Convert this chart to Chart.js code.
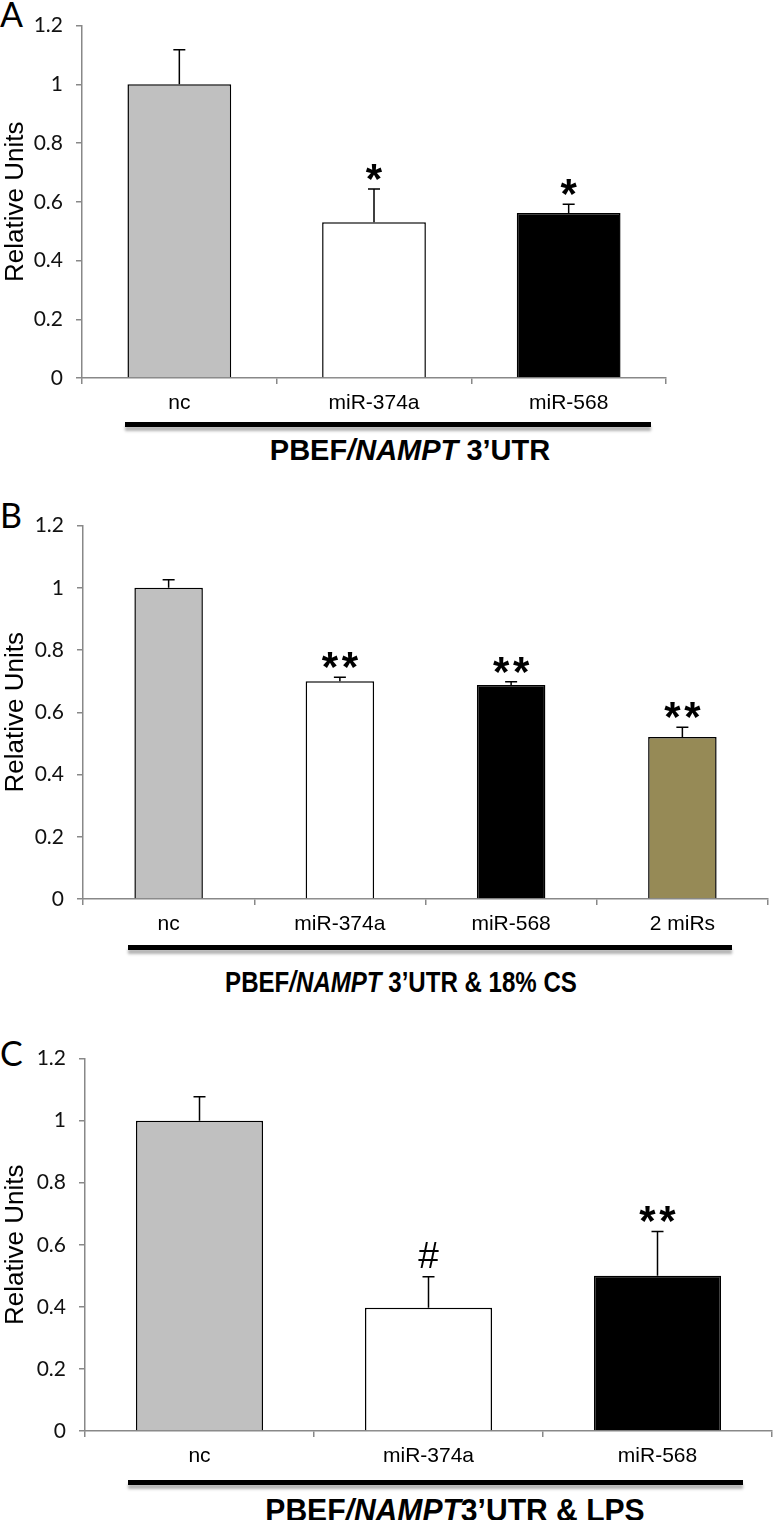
<!DOCTYPE html>
<html>
<head>
<meta charset="utf-8">
<script src="https://cdn.jsdelivr.net/npm/chart.js@4.4.1/dist/chart.umd.min.js"></script>
<style>
body { margin: 0; background: #fff; }
#page { position: relative; width: 773px; height: 1520px; overflow: hidden; font-family: "Liberation Sans", Arial, sans-serif; }
canvas { position: absolute; left: 0; }
.letter { position: absolute; left: 0; font-family: Lato, "Open Sans", sans-serif; font-size: 34px; line-height: 1; color: #000; }
.rule { position: absolute; height: 5px; background: #000; box-shadow: 0 4px 3px rgba(0,0,0,0.3); }
.ttl { position: absolute; font-weight: bold; white-space: nowrap; color: #000; line-height: 1; }
</style>
</head>
<body>
<div id="page">
    <div class="letter" style="top:-3px">A</div>
    <canvas id="chartA" width="773" height="418" style="top:0px"></canvas>
    <div class="rule" style="left:125px;width:526px;top:422px"></div>
    <div class="ttl" style="left:410px;top:450px;font-size:29px;transform:translate(-50%,-50%)">PBEF<i>/NAMPT</i> 3’UTR</div>

    <div class="letter" style="top:498px">B</div>
    <canvas id="chartB" width="773" height="439" style="top:500px"></canvas>
    <div class="rule" style="left:128px;width:604px;top:945px"></div>
    <div class="ttl" style="left:401px;top:982px;font-size:29px;transform:translate(-50%,-50%) scaleX(0.83)">PBEF<i>/NAMPT</i> 3’UTR &amp; 18% CS</div>

    <div class="letter" style="top:1036px">C</div>
    <canvas id="chartC" width="773" height="438" style="top:1033px"></canvas>
    <div class="rule" style="left:128px;width:615px;top:1480px"></div>
    <div class="ttl" style="left:455px;top:1510px;font-size:32px;transform:translate(-50%,-50%) scaleX(0.94)">PBEF<i>/NAMPT</i>3’UTR &amp; LPS</div>
</div>

<script>
// values
const yTickLabels = ["0", "0.2", "0.4", "0.6", "0.8", "1", "1.2"];

const labelsA = ["nc", "miR-374a", "miR-568"];
const meanA = [1.0, 0.53, 0.562];
const errA = [0.118, 0.114, 0.03];
const marksA = ["", "*", "*"];

const labelsB = ["nc", "miR-374a", "miR-568", "2 miRs"];
const meanB = [1.0, 0.70, 0.688, 0.521];
const errB = [0.026, 0.013, 0.01, 0.031];
const marksB = ["", "**", "**", "**"];

const labelsC = ["nc", "miR-374a", "miR-568"];
const meanC = [1.0, 0.397, 0.5];
const errC = [0.077, 0.1, 0.143];
const marksC = ["", "#", "**"];

const barColors = ["#c0c0c0", "#ffffff", "#000000", "#968a56"];

// error bars + significance marks, drawn from the chart's own scales
const errorBars = {
    id: "errorBars",
    afterDatasetsDraw(chart, args, opts) {
        const ctx = chart.ctx;
        const meta = chart.getDatasetMeta(0);
        const y = chart.scales.y;
        const values = chart.data.datasets[0].data;
        ctx.save();
        meta.data.forEach((bar, i) => {
            const top = y.getPixelForValue(values[i]);
            const tip = y.getPixelForValue(values[i] + opts.errs[i]);
            ctx.strokeStyle = "#000";
            ctx.lineWidth = 1.5;
            ctx.beginPath();
            ctx.moveTo(bar.x, top);
            ctx.lineTo(bar.x, tip);
            ctx.moveTo(bar.x - 6, tip);
            ctx.lineTo(bar.x + 6, tip);
            ctx.stroke();

            const mark = opts.marks[i];
            if (!mark) return;
            ctx.font = mark === "#"
                ? '37px "Liberation Sans", Arial, sans-serif'
                : 'bold 42px "Liberation Sans", Arial, sans-serif';
            ctx.fillStyle = "#000";
            ctx.textAlign = "center";
            ctx.textBaseline = "alphabetic";
            const m = ctx.measureText(mark[0]);
            const base = tip - 9 - m.actualBoundingBoxDescent;
            const pitch = 20;
            const start = bar.x - (mark.length - 1) * pitch / 2;
            for (let k = 0; k < mark.length; k++) {
                ctx.fillText(mark[k], start + k * pitch, base);
            }
        });
        ctx.restore();
    }
};

function panelOptions(errs, marks, yWidth, padRight) {
    return {
        responsive: false,
        animation: false,
        layout: { padding: { top: 12, right: padRight, left: 0, bottom: 0 } },
        plugins: {
            legend: { display: false },
            tooltip: { enabled: false },
            errorBars: { errs, marks }
        },
        scales: {
            x: {
                offset: true,
                grid: { offset: true, drawOnChartArea: false, drawTicks: true, tickLength: 6, color: "#888", lineWidth: 1.5 },
                border: { display: true, color: "#888", width: 1.5 },
                ticks: { color: "#000", padding: 7, font: { family: "Liberation Sans", size: 21 } },
                afterFit: s => { s.height = 40; }
            },
            y: {
                min: 0,
                max: 1.2,
                grid: { drawOnChartArea: false, drawTicks: true, tickLength: 6, color: "#888", lineWidth: 1.5 },
                border: { display: true, color: "#888", width: 1.5 },
                ticks: {
                    stepSize: 0.2,
                    color: "#111",
                    padding: 13,
                    font: { family: "Lato", size: 21 },
                    callback: (v, i) => yTickLabels[i]
                },
                title: { display: true, text: "Relative Units", color: "#000", padding: 0, font: { family: "Liberation Sans", size: 26 } },
                afterFit: s => { s.width = yWidth; }
            }
        }
    };
}

function barDataset(values, barPct) {
    return {
        data: values,
        backgroundColor: barColors.slice(0, values.length),
        borderColor: "#000",
        borderWidth: 1.5,
        borderSkipped: "bottom",
        categoryPercentage: 1.0,
        barPercentage: barPct
    };
}

new Chart(document.getElementById("chartA").getContext("2d"), {
    type: "bar",
    data: { labels: labelsA, datasets: [barDataset(meanA, 0.533)] },
    options: panelOptions(errA, marksA, 82, 107),
    plugins: [errorBars]
});

new Chart(document.getElementById("chartB").getContext("2d"), {
    type: "bar",
    data: { labels: labelsB, datasets: [barDataset(meanB, 0.40)] },
    options: panelOptions(errB, marksB, 83, 5),
    plugins: [errorBars]
});

new Chart(document.getElementById("chartC").getContext("2d"), {
    type: "bar",
    data: { labels: labelsC, datasets: [barDataset(meanC, 0.555)] },
    options: panelOptions(errC, marksC, 85, 1),
    plugins: [errorBars]
});
</script>
</body>
</html>
